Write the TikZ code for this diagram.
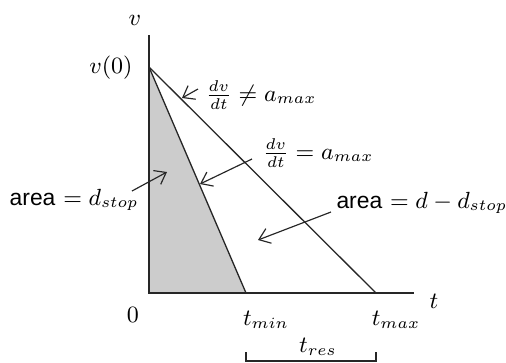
\documentclass[tikz,border=0pt]{standalone}
\usepackage{fontspec}
\newfontfamily\sansarea{Liberation Sans}
\usetikzlibrary{arrows.meta}
\begin{document}
\begin{tikzpicture}[x=0.385pt,y=-0.385pt,
  axisline/.style={line width=0.5pt, black!85},
  curve/.style={line width=0.5pt, black!85},
  pointer/.style={line width=0.45pt, black!85, -{Straight Barb[length=4pt,width=6pt]}},
  lbl/.style={inner sep=0pt, font=\fontsize{8.8}{10.5}\selectfont},
  shade/.style={fill=black!20}]
\useasboundingbox (0,0) rectangle (506,362);
% key points
\coordinate (O) at (149,293);
\coordinate (V0) at (149,67);
\coordinate (Tmin) at (246,293);
\coordinate (Tmax) at (376,293);
\coordinate (Vtop) at (149,35);
\coordinate (Tend) at (414,293);
% shaded region
\fill[shade] (V0) -- (Tmin) -- (O) -- cycle;
% axes
\draw[axisline] (Vtop) -- (O) -- (Tend);
% lines
\draw[curve] (V0) -- (Tmin);
\draw[curve] (V0) -- (Tmax);
% labels
\node[lbl] (vlab) at (135,20) {$v$};
\node[lbl, anchor=east] (v0lab) at (133,68) {$v(0)$};
\node[lbl] (tlab) at (434,301) {$t$};
\node[lbl] (zero) at (133,315) {$0$};
\node[lbl] (tminlab) at (266,320) {$t_{min}$};
\node[lbl] (tmaxlab) at (396,320) {$t_{max}$};
\node[lbl] (treslab) at (318,347) {$t_{res}$};
\node[lbl, anchor=west] (neq) at (205,95) {$\frac{dv}{dt}\neq a_{max}$};
\node[lbl, anchor=west] (eq) at (262,153) {$\frac{dv}{dt}= a_{max}$};
\node[lbl, anchor=east] (astop) at (139,200) {{\sansarea area} $= d_{stop}$};
\node[lbl, anchor=west] (arest) at (336,203) {{\sansarea area} $= d - d_{stop}$};
% pointer coordinates
\coordinate (p1s) at (198,89);  \coordinate (p1e) at (182,98);
\coordinate (p2s) at (252,159); \coordinate (p2e) at (200,184);
\coordinate (p3s) at (132,191); \coordinate (p3e) at (167,172);
\coordinate (p4s) at (331,212); \coordinate (p4e) at (258,240);
\draw[pointer] (p1s) -- (p1e);
\draw[pointer] (p2s) -- (p2e);
\draw[pointer] (p3s) -- (p3e);
\draw[pointer] (p4s) -- (p4e);
% bracket
\coordinate (b1) at (246,352); \coordinate (b2) at (376,352);
\coordinate (b1d) at (246,361); \coordinate (b2d) at (376,361);
\draw[axisline] (b1) -- (b1d) -- (b2d) -- (b2);
\end{tikzpicture}
\end{document}
